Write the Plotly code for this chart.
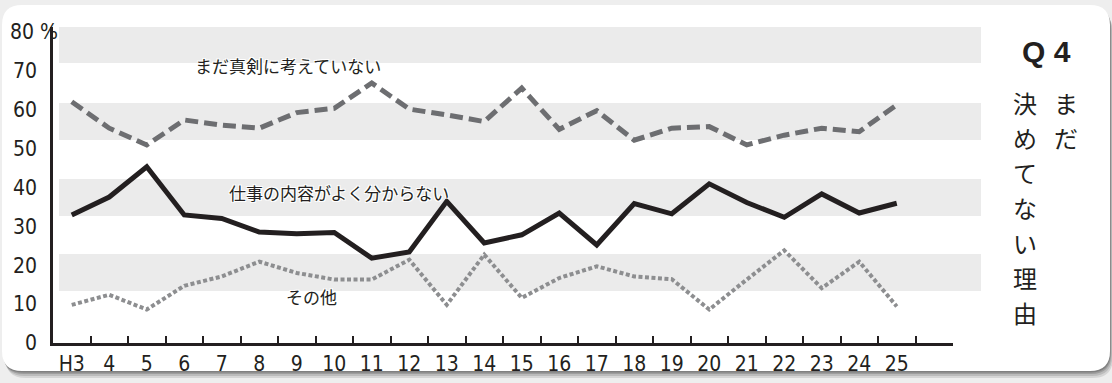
import plotly.graph_objects as go

# ---------------- data ----------------
years = ["H3", "4", "5", "6", "7", "8", "9", "10", "11", "12", "13", "14",
         "15", "16", "17", "18", "19", "20", "21", "22", "23", "24", "25"]
not_serious = [62.0, 55.2, 50.9, 57.3, 56.0, 55.2, 59.2, 60.3, 66.8, 60.1, 58.6, 56.9,
               65.5, 54.9, 59.7, 52.1, 55.2, 55.6, 50.9, 53.4, 55.2, 54.3, 61.2]
unknown_work = [32.9, 37.5, 45.3, 32.9, 32.0, 28.5, 28.1, 28.4, 21.8, 23.4, 36.4, 25.7,
                27.8, 33.4, 25.2, 35.8, 33.2, 40.9, 36.1, 32.3, 38.3, 33.4, 35.9]
other = [9.8, 12.4, 8.6, 14.7, 17.1, 20.9, 18.0, 16.3, 16.3, 21.4, 9.8, 22.7,
         11.6, 16.7, 19.7, 17.1, 16.4, 8.6, 16.3, 23.8, 14.1, 20.9, 9.4]
y_ticks = [0, 10, 20, 30, 40, 50, 60, 70]
series_names = ["まだ真剣に考えていない", "仕事の内容がよく分からない", "その他"]
title_q = "Q 4"
title_col_right = "まだ"
title_col_left = "決めてない理由"

W, H = 1112, 383
INK = "#231f20"
NUM_FONT = "Liberation Sans Narrow, DejaVu Sans Condensed, Arial Narrow, sans-serif"
JP_FONT = "Noto Sans CJK JP, sans-serif"


def px(x):
    return x / W


def py(y):
    return 1 - y / H


def rrect(x0, y0, x1, y1, r):
    a, b, c, d = px(x0), px(x0 + r), px(x1 - r), px(x1)
    t, u, v, w = py(y0), py(y0 + r), py(y1 - r), py(y1)
    return (f"M {b},{t} L {c},{t} Q {d},{t} {d},{u} L {d},{v} Q {d},{w} {c},{w} "
            f"L {b},{w} Q {a},{w} {a},{v} L {a},{u} Q {a},{t} {b},{t} Z")


fig = go.Figure()

fig.add_trace(go.Scatter(x=years, y=other, mode="lines", name=series_names[2],
                         line=dict(color="#8d8e90", width=4, dash="4px,2.5px")))
fig.add_trace(go.Scatter(x=years, y=not_serious, mode="lines", name=series_names[0],
                         line=dict(color="#6d6e71", width=5, dash="13px,6px")))
fig.add_trace(go.Scatter(x=years, y=unknown_work, mode="lines", name=series_names[1],
                         line=dict(color=INK, width=5)))

shapes = []
# card shadow + card
for off, op in [(7, 0.10), (5, 0.12), (3, 0.16), (1.5, 0.18)]:
    shapes.append(dict(type="path", xref="paper", yref="paper", layer="below",
                       path=rrect(2 + off * 0.5, 5 + off, 1110 + off * 0.4, 371 + off, 20),
                       fillcolor=f"rgba(0,0,0,{op})", line=dict(width=0)))
shapes.append(dict(type="path", xref="paper", yref="paper", layer="below",
                   path=rrect(2, 5, 1110, 371, 20), fillcolor="white", line=dict(width=0)))
# grey bands
for lo, hi in [(13.36, 22.87), (32.63, 42.14), (52.16, 61.66), (71.94, 81.2)]:
    shapes.append(dict(type="rect", xref="paper", yref="y", layer="below",
                       x0=px(59), x1=px(981), y0=lo, y1=hi,
                       fillcolor="#ebebeb", line=dict(width=0)))

halo = "white 1px 1px 0, white -1px -1px 0, white 1px -1px 0, white -1px 1px 0"


def note(text, x, y, size, family=JP_FONT, shadow=None, xanchor="center", yanchor="middle"):
    f = dict(family=family, size=size, color=INK)
    if shadow:
        f["shadow"] = shadow
    return dict(text=text, x=px(x), y=py(y), xref="paper", yref="paper",
                xanchor=xanchor, yanchor=yanchor, showarrow=False, font=f)


COL_SIZE = 24
PITCH = 35
FIRST = 102
annotations = [
    dict(text="80 %", x=px(8), y=80, xref="paper", yref="y", xanchor="left",
         yanchor="middle", showarrow=False, font=dict(family=NUM_FONT, size=21, color=INK)),
    note(series_names[0], 287.5, 66, 17, shadow=halo),
    note(series_names[1], 338.5, 192.5, 17, shadow=halo),
    note(series_names[2], 311, 296.5, 17, shadow=halo),
    note(f"<b>{title_q}</b>", 1046, 51.5, 30, family="Liberation Sans, Arial, sans-serif"),
]
for i, ch in enumerate(title_col_right):
    annotations.append(note(ch, 1066, FIRST + PITCH * i, COL_SIZE))
for i, ch in enumerate(title_col_left):
    annotations.append(note(ch, 1025, FIRST + PITCH * i, COL_SIZE))

fig.update_layout(
    width=W, height=H, autosize=False,
    margin=dict(l=0, r=0, t=0, b=0, autoexpand=False),
    paper_bgcolor="#eeeeee",
    plot_bgcolor="rgba(0,0,0,0)",
    showlegend=False,
    shapes=shapes,
    annotations=annotations,
    xaxis=dict(
        type="category", categoryorder="array", categoryarray=years + [" "],
        range=[-0.5, 23.5], domain=[px(53), px(953)], automargin=False,
        showline=True, linecolor=INK, linewidth=2.5,
        ticks="inside", tickson="boundaries", ticklen=7, tickwidth=2, tickcolor=INK,
        tickfont=dict(family=NUM_FONT, size=21, color=INK),
        showgrid=False, zeroline=False, fixedrange=True,
    ),
    yaxis=dict(
        range=[0, 81.2], domain=[py(343), py(27)], automargin=False,
        showline=True, linecolor=INK, linewidth=2.5,
        tickvals=y_ticks, ticks="", ticklabelstandoff=9,
        tickfont=dict(family=NUM_FONT, size=21, color=INK),
        showgrid=False, zeroline=False, fixedrange=True,
    ),
)

fig.write_html("out.html")
